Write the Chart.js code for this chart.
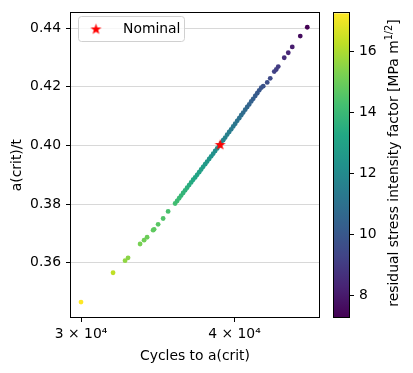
<!DOCTYPE html>
<html>
<head>
<meta charset="utf-8">
<script src="https://cdn.jsdelivr.net/npm/chart.js@4.4.1/dist/chart.umd.min.js"></script>
<style>
  body { margin: 0; background: #fff; }
  #wrap { position: relative; width: 413px; height: 373px; }
  #wrap canvas { position: absolute; left: 0; top: 0; }
</style>
</head>
<body>
<div id="wrap">
  <canvas id="mainChart" width="413" height="373"></canvas>
  <canvas id="cbarChart" width="413" height="373"></canvas>
</div>
<script>
// Critical crack size vs cycles, coloured by residual stress intensity factor

const cycles = [
  30000, 31857, 32583, 32766, 33513, 33765, 33956, 34341, 34405, 34664, 34991, 35320,
  35787, 35922, 36057, 36193, 36329, 36465, 36602, 36740, 36878, 37017, 37156, 37296,
  37436, 37577, 37718, 37860, 38002, 38145, 38289, 38433, 38577, 38722, 38868,
  39014, 39161, 39308, 39456, 39604, 39753, 39903, 40053, 40204, 40355, 40507, 40659,
  40812, 40965, 41119, 41274, 41429, 41585, 41741, 41898, 42056,
  42213, 42531, 42772, 43094, 43257, 43420, 43911, 44242, 44575, 45248, 45847
];
const acrit = [
  0.3466, 0.3566, 0.3607, 0.3617, 0.3664, 0.3677, 0.3687, 0.3711, 0.3714, 0.3731, 0.3751, 0.3775,
  0.3802, 0.3811, 0.3820, 0.3829, 0.3838, 0.3847, 0.3856, 0.3865, 0.3874, 0.3883, 0.3891, 0.3900,
  0.3909, 0.3918, 0.3927, 0.3936, 0.3945, 0.3954, 0.3963, 0.3972, 0.3981, 0.3990, 0.3999,
  0.4008, 0.4018, 0.4027, 0.4037, 0.4046, 0.4055, 0.4065, 0.4074, 0.4084, 0.4093, 0.4103, 0.4112,
  0.4122, 0.4131, 0.4140, 0.4150, 0.4159, 0.4169, 0.4178, 0.4188, 0.4197,
  0.4202, 0.4215, 0.4229, 0.4252, 0.4259, 0.4269, 0.4299, 0.4316, 0.4336, 0.4373, 0.4403
];
const kres = [
  17.26, 16.3, 15.6, 15.5, 15.2, 15.1, 15.0, 14.8, 14.75, 14.65, 14.5, 14.35,
  14.2, 14.1, 14.0, 13.9, 13.8, 13.7, 13.6, 13.5, 13.4, 13.3, 13.2, 13.1,
  13.0, 12.9, 12.8, 12.7, 12.6, 12.5, 12.4, 12.3, 12.2, 12.1, 12.0,
  11.9, 11.8, 11.7, 11.6, 11.5, 11.4, 11.3, 11.2, 11.1, 11.0, 10.9, 10.8,
  10.7, 10.6, 10.5, 10.4, 10.3, 10.2, 10.1, 10.0, 9.9,
  9.8, 9.65, 9.5, 9.25, 9.15, 9.05, 8.55, 8.35, 8.1, 7.6, 7.29
];
const nominalCycles = 38940;
const nominalAcrit = 0.4003;

const xTicks = [30000, 40000];
const yTicks = [0.36, 0.38, 0.40, 0.42, 0.44];
const cbTicks = [8, 10, 12, 14, 16];
const cbMin = 7.29, cbMax = 17.26;

// viridis colormap
const viridis = ['#440154', '#482475', '#414487', '#355f8d', '#2a788e', '#21918c',
                 '#22a884', '#44bf70', '#7ad151', '#bddf26', '#fde725'];

function hexRgb(h) {
  return [parseInt(h.substr(1, 2), 16), parseInt(h.substr(3, 2), 16), parseInt(h.substr(5, 2), 16)];
}
function viridisAt(v) {
  let t = (v - cbMin) / (cbMax - cbMin);
  t = Math.max(0, Math.min(1, t));
  const p = t * (viridis.length - 1);
  const i = Math.min(Math.floor(p), viridis.length - 2);
  const f = p - i;
  const a = hexRgb(viridis[i]), b = hexRgb(viridis[i + 1]);
  const c = a.map((ai, k) => Math.round(ai + (b[k] - ai) * f));
  return 'rgb(' + c.join(',') + ')';
}

// filled red star marker
const starImg = document.createElement('canvas');
starImg.width = 13; starImg.height = 13;
(function() {
  const c = starImg.getContext('2d');
  c.beginPath();
  for (let i = 0; i < 10; i++) {
    const r = i % 2 === 0 ? 5.8 : 2.3;
    const a = -Math.PI / 2 + i * Math.PI / 5;
    const px = 6.5 + r * Math.cos(a), py = 6.9 + r * Math.sin(a);
    if (i === 0) c.moveTo(px, py); else c.lineTo(px, py);
  }
  c.closePath();
  c.fillStyle = '#ff0000';
  c.fill();
})();

Chart.defaults.font.family = 'DejaVu Sans';
Chart.defaults.font.size = 13.9;
Chart.defaults.color = '#000';

const frame = {
  id: 'frame',
  afterDraw(chart) {
    const { ctx, chartArea: a } = chart;
    ctx.save();
    ctx.strokeStyle = '#000';
    ctx.lineWidth = 1;
    ctx.strokeRect(Math.round(a.left) - 0.5, Math.round(a.top) - 0.5,
                   Math.round(a.right - a.left) + 1, Math.round(a.bottom - a.top) + 1);
    ctx.restore();
  }
};

const legendBox = {
  id: 'legendBox',
  afterDraw(chart) {
    const ctx = chart.ctx;
    ctx.save();
    ctx.beginPath();
    ctx.roundRect(78.5, 16.5, 106, 25, 3);
    ctx.fillStyle = 'rgba(255,255,255,0.8)';
    ctx.fill();
    ctx.strokeStyle = '#d0d0d0';
    ctx.lineWidth = 1;
    ctx.stroke();
    ctx.drawImage(starImg, 96 - 6.5, 29 - 6.5);
    ctx.fillStyle = '#000';
    ctx.font = '13.9px "DejaVu Sans"';
    ctx.textBaseline = 'middle';
    ctx.fillText('Nominal', 123, 29.5);
    ctx.restore();
  }
};

new Chart(document.getElementById('mainChart'), {
  type: 'scatter',
  data: {
    datasets: [{
      data: [{ x: nominalCycles, y: nominalAcrit }],
      pointStyle: starImg,
      pointRadius: 6,
      order: 0
    }, {
      data: cycles.map((c, i) => ({ x: c, y: acrit[i] })),
      pointRadius: 2.4,
      pointHoverRadius: 2.4,
      pointBorderWidth: 0,
      pointBackgroundColor: kres.map(viridisAt),
      order: 1
    }]
  },
  options: {
    responsive: false,
    animation: false,
    layout: { padding: { left: 0, right: 94, top: 9, bottom: 0 } },
    plugins: { legend: { display: false }, tooltip: { enabled: false } },
    scales: {
      x: {
        type: 'logarithmic',
        min: 29442,
        max: 46866,
        afterBuildTicks: s => { s.ticks = xTicks.map(v => ({ value: v })); },
        afterFit: s => { s.height = 56; },
        ticks: {
          autoSkip: false,
          maxRotation: 0,
          padding: 4,
          callback: v => (v / 10000) + ' \u00d7 10\u2074'
        },
        grid: { color: 'rgba(0,0,0,0)', tickColor: '#000', tickLength: 5 },
        border: { display: false },
        title: { display: true, text: 'Cycles to a(crit)', padding: { top: 0, bottom: 8 } }
      },
      y: {
        min: 0.34151,
        max: 0.44504,
        afterBuildTicks: s => { s.ticks = yTicks.map(v => ({ value: v })); },
        afterFit: s => { s.width = 71; },
        ticks: { padding: 5, callback: v => v.toFixed(2) },
        grid: { color: '#d8d8d8', tickColor: '#000', tickLength: 5 },
        border: { display: false },
        title: { display: true, text: 'a(crit)/t', padding: { top: 9, bottom: 0 } }
      }
    }
  },
  plugins: [frame, legendBox]
});

// colorbar
const cbarPaint = {
  id: 'cbarPaint',
  beforeDatasetsDraw(chart) {
    const { ctx, chartArea: a } = chart;
    const g = ctx.createLinearGradient(0, a.bottom, 0, a.top);
    viridis.forEach((c, i) => g.addColorStop(i / (viridis.length - 1), c));
    ctx.save();
    ctx.fillStyle = g;
    ctx.fillRect(a.left, a.top, a.right - a.left, a.bottom - a.top);
    ctx.restore();
  },
  afterDraw(chart) {
    const ctx = chart.ctx;
    ctx.save();
    ctx.translate(398, 163);
    ctx.rotate(-Math.PI / 2);
    ctx.fillStyle = '#000';
    ctx.textBaseline = 'alphabetic';
    const main = 'residual stress intensity factor [MPa m';
    const sup = '1/2';
    const tail = ']';
    ctx.font = '13.9px "DejaVu Sans"';
    const w1 = ctx.measureText(main).width;
    const w3 = ctx.measureText(tail).width;
    ctx.font = '9.7px "DejaVu Sans"';
    const w2 = ctx.measureText(sup).width;
    let x = -(w1 + w2 + w3) / 2;
    ctx.font = '13.9px "DejaVu Sans"';
    ctx.fillText(main, x, 0);
    ctx.font = '9.7px "DejaVu Sans"';
    ctx.fillText(sup, x + w1, -6);
    ctx.font = '13.9px "DejaVu Sans"';
    ctx.fillText(tail, x + w1 + w2, 0);
    ctx.restore();
  }
};

new Chart(document.getElementById('cbarChart'), {
  type: 'scatter',
  data: { datasets: [] },
  options: {
    responsive: false,
    animation: false,
    layout: { padding: { left: 334, right: 0, top: 9, bottom: 56 } },
    plugins: { legend: { display: false }, tooltip: { enabled: false } },
    scales: {
      x: { display: false, min: 0, max: 1 },
      y: {
        position: 'right',
        min: cbMin,
        max: cbMax,
        afterBuildTicks: s => { s.ticks = cbTicks.map(v => ({ value: v })); },
        afterFit: s => { s.width = 64; },
        ticks: { padding: 5 },
        grid: { drawOnChartArea: false, color: '#000', tickColor: '#000', tickLength: 5 },
        border: { display: false }
      }
    }
  },
  plugins: [cbarPaint, frame]
});
</script>
</body>
</html>
